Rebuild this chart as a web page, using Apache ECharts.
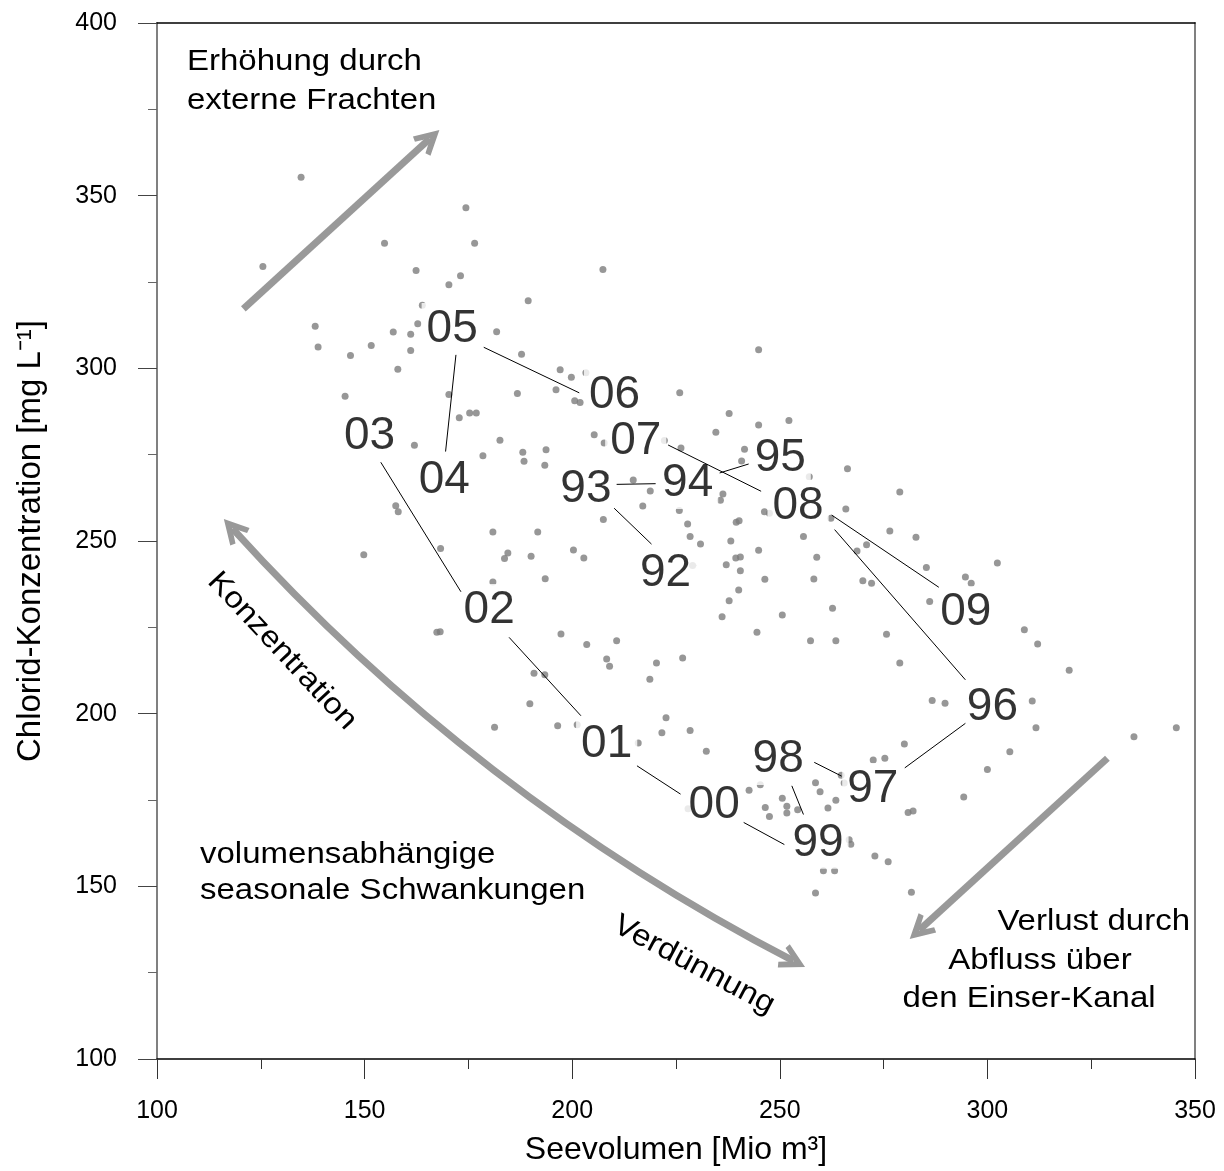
<!DOCTYPE html>
<html>
<head>
<meta charset="utf-8">
<title>Chlorid-Konzentration und Seevolumen</title>
<script src="https://cdn.jsdelivr.net/npm/echarts@6.0.0/dist/echarts.min.js"></script>
<style>
    html, body { margin: 0; padding: 0; background: #fff; }
    #chart { width: 1224px; height: 1171px; }
</style>
</head>
<body>
<div id="chart"></div>
<script>
// Messwerte (Seevolumen in Mio m3, Chlorid in mg/L)
const volumen = [
    134.7, 125.5, 154.8, 174.4, 176.5, 162.4, 173.1, 170.3, 163.9, 162.8,
    138.1, 138.8, 146.6, 151.6, 156.9, 161.1, 161.1, 158.0, 181.8, 145.3,
    170.3, 189.4, 187.8, 197.1, 186.8, 196.1, 172.8, 175.3, 176.9, 162.0,
    182.6, 178.5, 188.1, 188.4, 193.7, 193.4, 157.5, 158.1, 180.9, 191.7,
    149.8, 168.3, 184.5, 183.7, 190.1, 193.5, 180.9, 207.4, 199.8, 203.3,
    200.6, 201.9, 244.9, 225.9, 237.8, 244.9, 252.2, 234.6, 205.3, 207.7,
    222.2, 226.2, 241.5, 240.8, 214.7, 218.8, 217.0, 236.3, 235.7, 257.1,
    266.3, 265.9, 246.3, 247.5, 225.8, 262.3, 207.5, 227.8, 239.5, 240.2,
    228.4, 230.9, 255.7, 238.2, 200.3, 202.8, 244.9, 258.9, 239.4, 240.5,
    237.1, 240.5, 246.4, 258.2, 240.1, 237.8, 236.1, 250.6, 262.7, 244.5,
    257.4, 263.5, 229.0, 167.4, 168.2, 197.3, 203.5, 210.7, 278.9, 276.5,
    282.8, 270.9, 268.6, 270.0, 272.1, 285.3, 302.4, 294.7, 296.1, 286.1,
    308.9, 312.1, 275.7, 319.7, 278.9, 286.7, 289.8, 310.8, 311.7, 345.5,
    335.3, 280.0, 305.4, 232.3, 300.0, 294.3, 275.3, 272.5, 264.8, 265.5,
    258.6, 259.7, 263.5, 261.6, 242.6, 245.3, 250.6, 251.7, 251.7, 254.3,
    246.5, 247.5, 280.9, 282.1, 266.7, 267.1, 272.9, 276.1, 258.6, 281.7,
    260.5, 263.2, 208.3, 209.0, 220.3, 226.6, 218.7, 190.8, 193.4, 189.8,
    181.3, 196.5, 201.2, 215.9, 222.6, 221.6, 228.4, 227.9
];
const chlorid = [
    355.3, 329.5, 336.2, 346.5, 336.2, 328.3, 326.8, 324.2, 318.3, 312.9,
    312.2, 306.2, 303.7, 306.6, 310.5, 309.9, 305.2, 299.7, 310.6, 291.9,
    292.4, 319.6, 304.1, 299.6, 292.7, 293.8, 285.7, 287.1, 287.1, 277.7,
    279.2, 274.7, 275.7, 273.1, 276.4, 271.9, 260.2, 258.5, 252.6, 252.6,
    246.0, 247.8, 246.5, 244.9, 245.6, 239.1, 238.1, 328.6, 297.4, 298.7,
    290.6, 290.1, 305.4, 292.9, 286.9, 283.6, 284.9, 281.5, 280.8, 278.4,
    279.1, 276.9, 276.6, 273.2, 267.7, 264.5, 260.1, 263.6, 261.8, 268.6,
    270.9, 259.3, 258.5, 258.0, 258.8, 256.6, 256.2, 254.9, 255.4, 255.9,
    251.3, 249.1, 251.3, 250.0, 247.4, 245.1, 247.3, 245.3, 245.1, 245.4,
    243.1, 241.4, 238.9, 239.0, 235.8, 232.7, 228.1, 228.6, 230.5, 223.6,
    221.1, 221.1, 242.9, 223.6, 223.7, 223.1, 220.0, 221.1, 264.2, 252.9,
    251.1, 248.9, 247.1, 238.5, 237.8, 242.3, 243.6, 239.6, 237.8, 232.5,
    224.3, 220.2, 223.0, 212.6, 214.7, 203.8, 203.0, 203.7, 195.9, 195.9,
    193.3, 191.2, 189.0, 189.1, 183.8, 175.9, 187.1, 186.6, 182.2, 179.9,
    180.0, 177.4, 174.9, 172.7, 177.8, 179.4, 175.5, 173.2, 171.2, 172.2,
    172.8, 170.2, 171.4, 171.8, 163.5, 162.2, 158.8, 157.1, 148.1, 148.3,
    154.5, 154.5, 215.8, 213.7, 214.7, 216.1, 210.0, 211.7, 211.3, 202.9,
    196.1, 196.5, 196.8, 191.5, 198.8, 194.5, 195.1, 172.5
];

// Jahresbeschriftungen
const jahre = ['92', '93', '94', '95', '96', '97', '98', '99', '00',
               '01', '02', '03', '04', '05', '06', '07', '08', '09'];
const jahrVolumen = [222.5, 203.3, 227.8, 250.1, 301.2, 272.4, 249.6, 259.2, 234.2,
                     208.3, 180.0, 151.2, 169.2, 171.1, 210.2, 215.3, 254.4, 294.8];
const jahrChlorid = [240.7, 265.1, 266.8, 273.8, 201.9, 178.2, 186.9, 162.6, 173.6,
                     191.2, 230.0, 280.4, 267.7, 311.4, 292.3, 279.0, 260.1, 229.4];

// Verbindungslinien zwischen den Jahren [von, bis]
const linieVon = [[210.1, 259.5], [210.7, 266.4], [235.5, 269.7], [263.2, 253.3], [294.7, 197.2],
                  [264.9, 181.9], [252.9, 179.1], [251.1, 162.1], [226.1, 176.7], [202.1, 199.4],
                  [173.2, 235.3], [169.5, 275.9], [178.7, 306.1], [223.1, 277.8], [262.5, 257.5]];
const linieBis = [[219.1, 249.1], [220.1, 266.6], [242.5, 272.3], [294.7, 209.8], [280.1, 184.3],
                  [258.3, 185.9], [255.7, 170.8], [241.3, 168.5], [215.6, 184.9], [184.8, 222.1],
                  [153.9, 272.8], [172.0, 303.9], [201.7, 292.9], [245.5, 264.4], [288.3, 236.6]];

// Pfeile
const pfeilVon = [[120.8, 317.2], [328.9, 187.1]];
const pfeilBis = [[165.7, 366.5], [283.6, 137.3]];
const bogenVon = [118.2, 253.6];
const bogenBis = [253.3, 128.4];

const FONT = '"Liberation Sans", Arial, Helvetica, sans-serif';
const chevron = 'path://M50,0 L100,92 L80,100 L50,48 L20,100 L0,92 Z';

let chart = echarts.init(document.getElementById('chart'));

function note(text, x, y, align, rot) {
    return {
        type: 'text',
        x: x,
        y: y,
        rotation: (rot || 0) * Math.PI / 180,
        scaleX: 1.1,
        z: 10,
        style: {
            text: text,
            font: '30px ' + FONT,
            fill: '#000',
            align: align,
            textAlign: align,
            verticalAlign: 'middle',
            textVerticalAlign: 'middle'
        }
    };
}

let option = {
    animation: false,
    backgroundColor: '#fff',
    grid: { left: 157, right: 29, top: 23, bottom: 111 },
    xAxis: [{
        type: 'value',
        min: 100,
        max: 350,
        interval: 50,
        position: 'bottom',
        name: 'Seevolumen [Mio m³]',
        nameLocation: 'middle',
        nameGap: 75,
        nameTextStyle: { fontSize: 32, color: '#000', fontFamily: FONT },
        axisLine: { lineStyle: { color: '#000', width: 1.5 } },
        axisTick: { length: 20, lineStyle: { color: '#333', width: 1 } },
        minorTick: { show: true, splitNumber: 2, length: 10, lineStyle: { color: '#333', width: 1 } },
        axisLabel: { fontSize: 25, color: '#000', margin: 40, fontFamily: FONT },
        splitLine: { show: false }
    }, {
        type: 'value',
        min: 100,
        max: 350,
        position: 'top',
        axisLine: { show: true, onZero: false, lineStyle: { color: '#000', width: 1.5 } },
        axisTick: { show: false },
        axisLabel: { show: false },
        splitLine: { show: false }
    }],
    yAxis: [{
        type: 'value',
        min: 100,
        max: 400,
        interval: 50,
        position: 'left',
        name: 'Chlorid-Konzentration [mg L⁻¹]',
        nameLocation: 'middle',
        nameGap: 110,
        nameTextStyle: { fontSize: 33, color: '#000', fontFamily: FONT },
        axisLine: { show: true, lineStyle: { color: '#808080', width: 2 } },
        axisTick: { length: 19, lineStyle: { color: '#444', width: 1 } },
        minorTick: { show: true, splitNumber: 2, length: 9, lineStyle: { color: '#666', width: 1 } },
        axisLabel: { fontSize: 25, color: '#000', margin: 40, fontFamily: FONT },
        splitLine: { show: false }
    }, {
        type: 'value',
        min: 100,
        max: 400,
        position: 'right',
        axisLine: { show: true, onZero: false, lineStyle: { color: '#808080', width: 2 } },
        axisTick: { show: false },
        axisLabel: { show: false },
        splitLine: { show: false }
    }],
    series: [
        {
            name: 'Messwerte',
            type: 'scatter',
            z: 2,
            symbolSize: 7,
            itemStyle: { color: '#7d7d7d' },
            data: volumen.map((v, i) => [v, chlorid[i]])
        },
        {
            name: 'Pfeile',
            type: 'lines',
            coordinateSystem: 'cartesian2d',
            z: 3,
            symbol: ['none', chevron],
            symbolSize: 26,
            lineStyle: { color: '#999', width: 7, opacity: 1 },
            data: pfeilVon.map((p, i) => ({ coords: [p, pfeilBis[i]] }))
        },
        {
            name: 'Bogen',
            type: 'lines',
            coordinateSystem: 'cartesian2d',
            z: 3,
            symbol: [chevron, chevron],
            symbolSize: 26,
            lineStyle: { color: '#999', width: 7, opacity: 1, curveness: -0.09 },
            data: [{ coords: [bogenVon, bogenBis] }]
        },
        {
            name: 'Jahre',
            type: 'scatter',
            z: 5,
            symbolSize: 1,
            itemStyle: { color: 'rgba(0,0,0,0)' },
            label: {
                show: true,
                position: 'inside',
                formatter: p => p.value[2],
                fontSize: 46,
                fontFamily: FONT,
                color: '#000',
                backgroundColor: '#fff',
                padding: [3, 5]
            },
            data: jahre.map((j, i) => [jahrVolumen[i], jahrChlorid[i], j])
        },
        {
            name: 'Verbindung',
            type: 'lines',
            coordinateSystem: 'cartesian2d',
            z: 6,
            symbol: 'none',
            lineStyle: { color: '#000', width: 1, opacity: 1 },
            data: linieVon.map((p, i) => ({ coords: [p, linieBis[i]] }))
        }
    ],
    graphic: [
        note('Erhöhung durch', 187, 62, 'left'),
        note('externe Frachten', 187, 101, 'left'),
        note('volumensabhängige', 200, 855, 'left'),
        note('seasonale Schwankungen', 200, 891, 'left'),
        note('Verlust durch', 1190, 922, 'right'),
        note('Abfluss über', 1040, 961, 'center'),
        note('den Einser-Kanal', 1029, 999, 'center'),
        note('Konzentration', 282, 651, 'center', -47),
        note('Verdünnung', 694, 965, 'center', -28)
    ]
};

chart.setOption(option);

window.addEventListener('resize', () => {
    chart.resize();
});
</script>
</body>
</html>
